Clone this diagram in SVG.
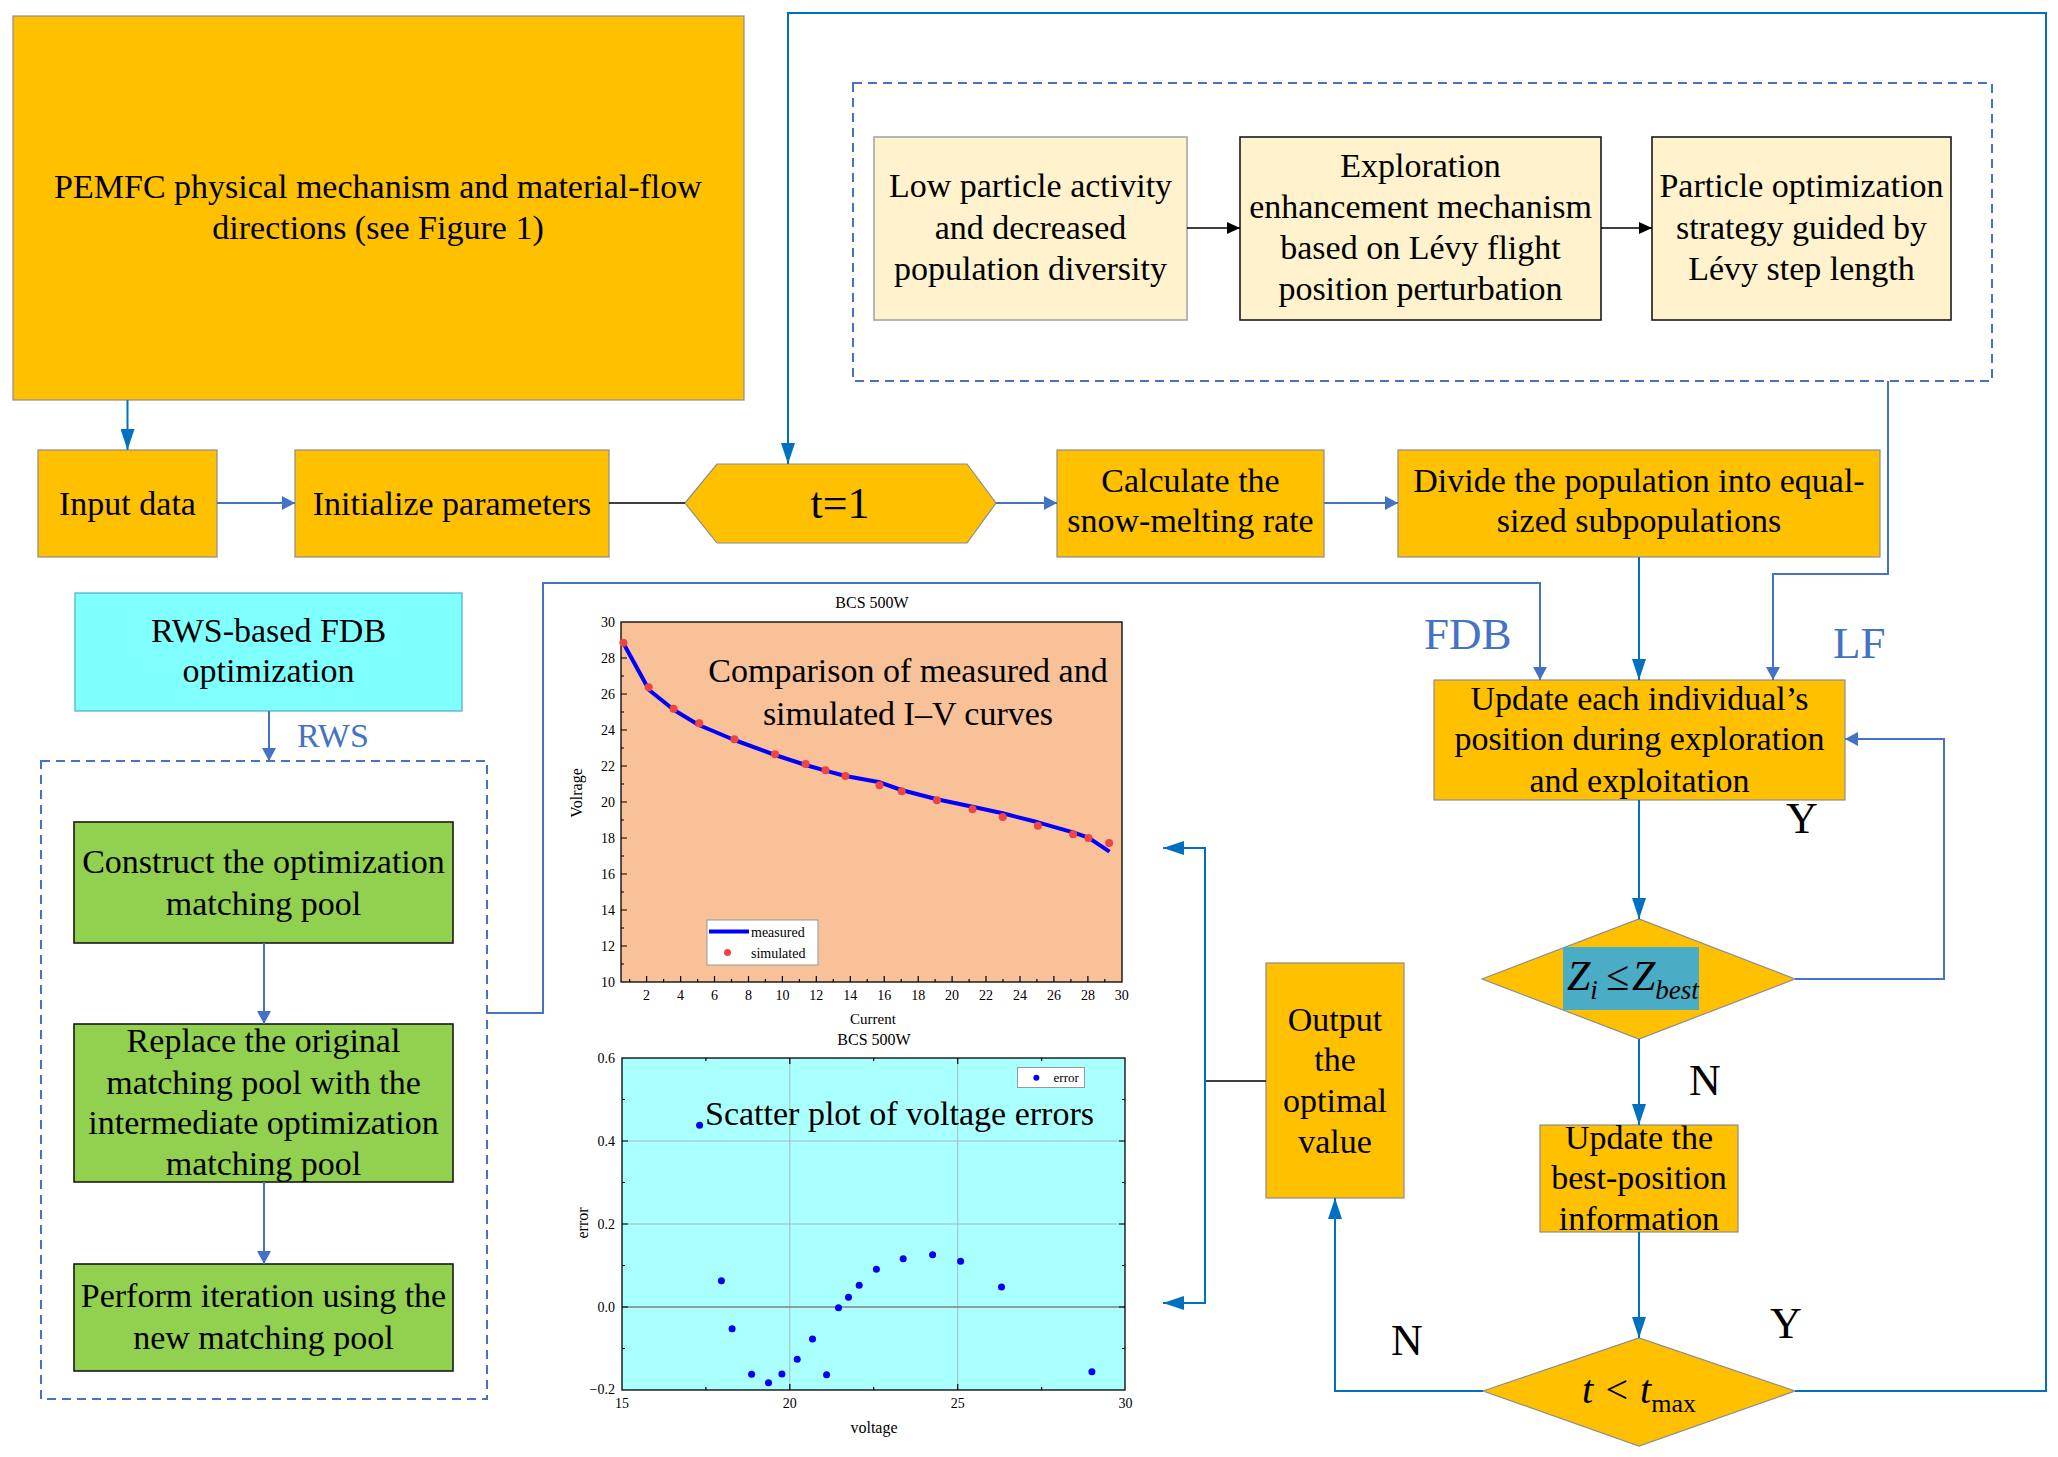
<svg xmlns="http://www.w3.org/2000/svg" width="2058" height="1457" viewBox="0 0 2058 1457">
<defs>
<style>
.box{fill:#FFC000;stroke:#8C8C8C;stroke-width:1.2}
.cream{fill:#FFF2CC;stroke:#1a1a1a;stroke-width:1.6}
.green{fill:#92D050;stroke:#1a1a1a;stroke-width:1.6}
.t{font-family:"Liberation Serif","Times New Roman",serif;font-size:34px;fill:#000;text-anchor:middle}
.lbl{font-family:"Liberation Serif","Times New Roman",serif;font-size:44px;fill:#000}
.blu{font-family:"Liberation Serif","Times New Roman",serif;fill:#4472C4}
.sm{font-family:"Liberation Serif","Times New Roman",serif;font-size:14px;fill:#000}
.cA{fill:none;stroke:#0070C0;stroke-width:2}
.cB{fill:none;stroke:#4472C4;stroke-width:2}
.cK{fill:none;stroke:#000;stroke-width:1.6}
.dash{fill:none;stroke:#4472C4;stroke-width:2;stroke-dasharray:9 6}
</style>
<marker id="mA" markerUnits="userSpaceOnUse" markerWidth="22" markerHeight="14" refX="21" refY="7" orient="auto"><path d="M0,0 L21,7 L0,14 Z" fill="#0070C0"/></marker>
<marker id="mB" markerUnits="userSpaceOnUse" markerWidth="14" markerHeight="14" refX="13" refY="7" orient="auto"><path d="M0,0 L13,7 L0,14 Z" fill="#4472C4"/></marker>
<marker id="mK" markerUnits="userSpaceOnUse" markerWidth="14" markerHeight="12" refX="13" refY="6" orient="auto"><path d="M0,0 L13,6 L0,12 Z" fill="#000"/></marker>
</defs>
<rect width="2058" height="1457" fill="#fff"/>

<!-- Nodes -->
<g id="pemfc"><rect class="box" x="13" y="16" width="731" height="384"/><text class="t" x="378" y="198">PEMFC physical mechanism and material-flow</text><text class="t" x="378" y="239">directions (see Figure 1)</text></g>
<g id="input"><rect class="box" x="38" y="450" width="179" height="107"/><text class="t" x="127.5" y="515">Input data</text></g>
<g id="init"><rect class="box" x="295" y="450" width="314" height="107"/><text class="t" x="452" y="515">Initialize parameters</text></g>
<g id="t1"><polygon class="box" points="685,503 717,464 967,464 996,503 967,543 717,543"/><text class="t" x="840" y="518" style="font-size:44px">t=1</text></g>
<g id="calc"><rect class="box" x="1057" y="450" width="267" height="107"/><text class="t" x="1190.5" y="492">Calculate the</text><text class="t" x="1190.5" y="532">snow-melting rate</text></g>
<g id="divide"><rect class="box" x="1398" y="450" width="482" height="107"/><text class="t" x="1639" y="492">Divide the population into equal-</text><text class="t" x="1639" y="532">sized subpopulations</text></g>

<g id="levy-group"><rect class="dash" x="853" y="83" width="1139" height="298"/></g>
<g id="low"><rect class="cream" x="874" y="137" width="313" height="183" style="stroke:#A6A6A6"/><text class="t" x="1030.5" y="197">Low particle activity</text><text class="t" x="1030.5" y="239">and decreased</text><text class="t" x="1030.5" y="280">population diversity</text></g>
<g id="explore"><rect class="cream" x="1240" y="137" width="361" height="183"/><text class="t" x="1420.5" y="177">Exploration</text><text class="t" x="1420.5" y="218">enhancement mechanism</text><text class="t" x="1420.5" y="259">based on Lévy flight</text><text class="t" x="1420.5" y="300">position perturbation</text></g>
<g id="particle"><rect class="cream" x="1652" y="137" width="299" height="183"/><text class="t" x="1801.5" y="197">Particle optimization</text><text class="t" x="1801.5" y="239">strategy guided by</text><text class="t" x="1801.5" y="280">Lévy step length</text></g>

<g id="rws"><rect x="75" y="593" width="387" height="118" fill="#80FFFF" stroke="#4BACC6" stroke-width="1.2"/><text class="t" x="268.5" y="642">RWS-based FDB</text><text class="t" x="268.5" y="682">optimization</text></g>
<g id="rws-group"><rect class="dash" x="41" y="761" width="446" height="638"/></g>
<g id="construct"><rect class="green" x="74" y="822" width="379" height="121"/><text class="t" x="263.5" y="873">Construct the optimization</text><text class="t" x="263.5" y="915">matching pool</text></g>
<g id="replace"><rect class="green" x="74" y="1024" width="379" height="158"/><text class="t" x="263.5" y="1052">Replace the original</text><text class="t" x="263.5" y="1094">matching pool with the</text><text class="t" x="263.5" y="1134">intermediate optimization</text><text class="t" x="263.5" y="1175">matching pool</text></g>
<g id="perform"><rect class="green" x="74" y="1264" width="379" height="107"/><text class="t" x="263.5" y="1307">Perform iteration using the</text><text class="t" x="263.5" y="1349">new matching pool</text></g>

<g id="update"><rect class="box" x="1434" y="680" width="411" height="120"/><text class="t" x="1639.5" y="710">Update each individual’s</text><text class="t" x="1639.5" y="750">position during exploration</text><text class="t" x="1639.5" y="792">and exploitation</text></g>
<g id="zi"><polygon class="box" points="1482,979 1639,919 1795,979 1639,1039"/><rect x="1563" y="947" width="136" height="63" fill="#4BACC6"/><text x="1567" y="990" style="font-family:'Liberation Serif','Times New Roman',serif;font-size:42px;font-style:italic">Z<tspan dy="9" style="font-size:27px">i</tspan><tspan dy="-9" dx="8" style="font-style:normal">≤</tspan><tspan dx="3">Z</tspan><tspan dy="9" style="font-size:27px">best</tspan></text></g>
<g id="best"><rect class="box" x="1540" y="1125" width="198" height="107"/><text class="t" x="1639" y="1149">Update the</text><text class="t" x="1639" y="1189">best-position</text><text class="t" x="1639" y="1230">information</text></g>
<g id="tmax"><polygon class="box" points="1483,1391 1639,1338 1795,1391 1639,1446"/><text x="1582" y="1403" style="font-family:'Liberation Serif','Times New Roman',serif;font-size:40px;font-style:italic">t &lt; t<tspan dy="9" style="font-style:normal;font-size:26px">max</tspan></text></g>
<g id="output"><rect class="box" x="1266" y="963" width="138" height="235"/><text class="t" x="1335" y="1031">Output</text><text class="t" x="1335" y="1071">the</text><text class="t" x="1335" y="1112">optimal</text><text class="t" x="1335" y="1153">value</text></g>

<!-- Labels -->
<g id="labels">
<text class="blu" x="297" y="747" style="font-size:34px">RWS</text>
<text class="blu" x="1424" y="649" style="font-size:45px">FDB</text>
<text class="blu" x="1833" y="658" style="font-size:45px">LF</text>
<text class="lbl" x="1786" y="833">Y</text>
<text class="lbl" x="1689" y="1095">N</text>
<text class="lbl" x="1770" y="1338">Y</text>
<text class="lbl" x="1391" y="1355">N</text>
</g>

<!-- Connectors -->
<g id="connectors">
<path class="cA" d="M127.5,400 V450" marker-end="url(#mA)"/>
<path class="cB" d="M217,503 H295" marker-end="url(#mB)"/>
<path class="cK" d="M609,503 H685"/>
<path class="cB" d="M996,503 H1057" marker-end="url(#mB)"/>
<path class="cB" d="M1324,503 H1398" marker-end="url(#mB)"/>
<path class="cA" d="M1795,1391 H2046 V13 H788 V464" marker-end="url(#mA)"/>
<path class="cK" d="M1187,228 H1240" marker-end="url(#mK)"/>
<path class="cK" d="M1601,228 H1652" marker-end="url(#mK)"/>
<path class="cB" d="M1888,381 V574 H1773 V680" marker-end="url(#mB)"/>
<path class="cA" d="M1639,557 V680" marker-end="url(#mA)"/>
<path class="cB" d="M487,1013 H543 V583 H1540 V680" marker-end="url(#mB)"/>
<path class="cA" d="M1639,800 V919" marker-end="url(#mA)"/>
<path class="cB" d="M1795,979 H1944 V739 H1845" marker-end="url(#mB)"/>
<path class="cA" d="M1639,1039 V1125" marker-end="url(#mA)"/>
<path class="cA" d="M1639,1232 V1338" marker-end="url(#mA)"/>
<path class="cA" d="M1483,1391 H1335 V1198" marker-end="url(#mA)"/>
<path class="cK" d="M1266,1081 H1205"/>
<path class="cA" d="M1205,1081 V848 H1163" marker-end="url(#mA)"/>
<path class="cA" d="M1205,1081 V1303 H1163" marker-end="url(#mA)"/>
<path class="cB" d="M269,711 V761" marker-end="url(#mB)"/>
<path class="cB" d="M264,943 V1024" marker-end="url(#mB)"/>
<path class="cB" d="M264,1182 V1264" marker-end="url(#mB)"/>
</g>

<!-- Chart 1: I-V curves -->
<g id="chart-iv">
<rect x="621" y="622" width="501" height="360" fill="#F8C197"/>
<text class="sm" x="872" y="608" text-anchor="middle" style="font-size:16px">BCS 500W</text>
<rect x="621" y="622" width="501" height="360" fill="none" stroke="#000" stroke-width="1.3"/>
<path d="M621,946h6M621,910h6M621,874h6M621,838h6M621,802h6M621,766h6M621,730h6M621,694h6M621,658h6M621,964h3M621,928h3M621,892h3M621,856h3M621,820h3M621,784h3M621,748h3M621,712h3M621,676h3M621,640h3
M646.6,982v-6M680.6,982v-6M714.5,982v-6M748.5,982v-6M782.4,982v-6M816.3,982v-6M850.3,982v-6M884.2,982v-6M918.2,982v-6M952.1,982v-6M986,982v-6M1020,982v-6M1053.9,982v-6M1087.9,982v-6
M629.7,982v-3M663.6,982v-3M697.6,982v-3M731.5,982v-3M765.4,982v-3M799.4,982v-3M833.3,982v-3M867.2,982v-3M901.2,982v-3M935.1,982v-3M969.1,982v-3M1003,982v-3M1036.9,982v-3M1070.9,982v-3M1104.8,982v-3" stroke="#000" stroke-width="1.2" fill="none"/>
<g class="sm" text-anchor="end">
<text x="615" y="987">10</text><text x="615" y="951">12</text><text x="615" y="915">14</text><text x="615" y="879">16</text><text x="615" y="843">18</text><text x="615" y="807">20</text><text x="615" y="771">22</text><text x="615" y="735">24</text><text x="615" y="699">26</text><text x="615" y="663">28</text><text x="615" y="627">30</text>
</g>
<g class="sm" text-anchor="middle">
<text x="646.6" y="1000">2</text><text x="680.6" y="1000">4</text><text x="714.5" y="1000">6</text><text x="748.5" y="1000">8</text><text x="782.4" y="1000">10</text><text x="816.3" y="1000">12</text><text x="850.3" y="1000">14</text><text x="884.2" y="1000">16</text><text x="918.2" y="1000">18</text><text x="952.1" y="1000">20</text><text x="986" y="1000">22</text><text x="1020" y="1000">24</text><text x="1053.9" y="1000">26</text><text x="1087.9" y="1000">28</text><text x="1121.8" y="1000">30</text>
</g>
<text class="sm" x="873" y="1024" text-anchor="middle" style="font-size:15px">Current</text>
<text class="sm" transform="translate(582,793) rotate(-90)" text-anchor="middle" style="font-size:16px">Volrage</text>
<polyline points="623.4,643.3 649.1,690 674,710 698.8,725 734.4,740 775,755 805.6,765 825.5,770.7 845.4,776 879.8,782.3 901.3,790 936.9,799.3 972.5,806.7 1002.7,813.3 1037.9,822.3 1073.1,832.3 1088.4,837.7 1109.5,851.7" fill="none" stroke="#0000FF" stroke-width="4" stroke-linejoin="round"/>
<g fill="#F04444">
<circle cx="623.4" cy="642.7" r="4"/><circle cx="648.7" cy="687.3" r="4"/><circle cx="673.6" cy="708.7" r="4"/><circle cx="699.2" cy="723.3" r="4"/><circle cx="734.4" cy="739.3" r="4"/><circle cx="775" cy="754.3" r="4"/><circle cx="805.6" cy="764" r="4"/><circle cx="825.5" cy="770.3" r="4"/><circle cx="845.4" cy="776" r="4"/><circle cx="879.5" cy="785.3" r="4"/><circle cx="901.7" cy="791.3" r="4"/><circle cx="936.9" cy="800.3" r="4"/><circle cx="972.5" cy="809.3" r="4"/><circle cx="1002.7" cy="817" r="4"/><circle cx="1037.9" cy="825.7" r="4"/><circle cx="1073.1" cy="834.3" r="4"/><circle cx="1088.4" cy="838" r="4"/><circle cx="1109.1" cy="843" r="4"/>
</g>
<rect x="707" y="920" width="111" height="45" fill="#fff" stroke="#999" stroke-width="1"/>
<line x1="709" y1="931.5" x2="749" y2="931.5" stroke="#0000FF" stroke-width="4"/>
<text class="sm" x="751" y="937">measured</text>
<circle cx="727.5" cy="952.5" r="3.5" fill="#F04444"/>
<text class="sm" x="751" y="958">simulated</text>
<text class="t" x="908" y="682">Comparison of measured and</text>
<text class="t" x="908" y="725">simulated I–V curves</text>
</g>

<!-- Chart 2: error scatter -->
<g id="chart-error">
<rect x="622" y="1058" width="503" height="332" fill="#AAFFFF"/>
<path d="M789.8,1058V1390M957.7,1058V1390M622,1141H1125M622,1224H1125" stroke="#9DBDBD" stroke-width="1" fill="none"/>
<path d="M622,1307H1125" stroke="#7F7F7F" stroke-width="1.6"/>
<text class="sm" x="874" y="1045" text-anchor="middle" style="font-size:16px">BCS 500W</text>
<rect x="622" y="1058" width="503" height="332" fill="none" stroke="#000" stroke-width="1.3"/>
<path d="M622,1141h6M622,1224h6M622,1307h6M622,1099.5h3M622,1182.5h3M622,1265.5h3M622,1348.5h3
M1125,1141h-6M1125,1224h-6M1125,1307h-6M1125,1099.5h-3M1125,1182.5h-3M1125,1265.5h-3M1125,1348.5h-3
M789.8,1390v-6M957.7,1390v-6M705.9,1390v-3M873.7,1390v-3M1041.6,1390v-3
M789.8,1058v6M957.7,1058v6M705.9,1058v3M873.7,1058v3M1041.6,1058v3" stroke="#000" stroke-width="1.2" fill="none"/>
<g class="sm" text-anchor="end">
<text x="615" y="1063">0.6</text><text x="615" y="1146">0.4</text><text x="615" y="1229">0.2</text><text x="615" y="1312">0.0</text><text x="615" y="1394">−0.2</text>
</g>
<g class="sm" text-anchor="middle">
<text x="622" y="1408">15</text><text x="789.8" y="1408">20</text><text x="957.7" y="1408">25</text><text x="1125.5" y="1408">30</text>
</g>
<text class="sm" x="874" y="1433" text-anchor="middle" style="font-size:16px">voltage</text>
<text class="sm" transform="translate(588,1223) rotate(-90)" text-anchor="middle" style="font-size:16px">error</text>
<rect x="1017.5" y="1067.5" width="67" height="20" fill="#fff" stroke="#999" stroke-width="1"/>
<circle cx="1036.4" cy="1077.7" r="3" fill="#0000FF"/>
<text class="sm" x="1053.6" y="1082" style="font-size:13px">error</text>
<g fill="#0000FF">
<circle cx="699.6" cy="1125.3" r="3.5"/><circle cx="721.4" cy="1280.7" r="3.5"/><circle cx="732.1" cy="1328.7" r="3.5"/><circle cx="751.6" cy="1374.3" r="3.5"/><circle cx="768.5" cy="1382.7" r="3.5"/><circle cx="781.9" cy="1374" r="3.5"/><circle cx="797.2" cy="1359.3" r="3.5"/><circle cx="812.5" cy="1339" r="3.5"/><circle cx="826.6" cy="1374.7" r="3.5"/><circle cx="838.5" cy="1307.7" r="3.5"/><circle cx="848.5" cy="1297.3" r="3.5"/><circle cx="859.2" cy="1285.3" r="3.5"/><circle cx="876.4" cy="1269.3" r="3.5"/><circle cx="903.2" cy="1258.7" r="3.5"/><circle cx="932.6" cy="1254.7" r="3.5"/><circle cx="960.6" cy="1261.3" r="3.5"/><circle cx="1001.5" cy="1287" r="3.5"/><circle cx="1091.9" cy="1371.7" r="3.5"/>
</g>
<text class="t" x="705" y="1125" text-anchor="start" style="text-anchor:start">Scatter plot of voltage errors</text>
</g>
</svg>
